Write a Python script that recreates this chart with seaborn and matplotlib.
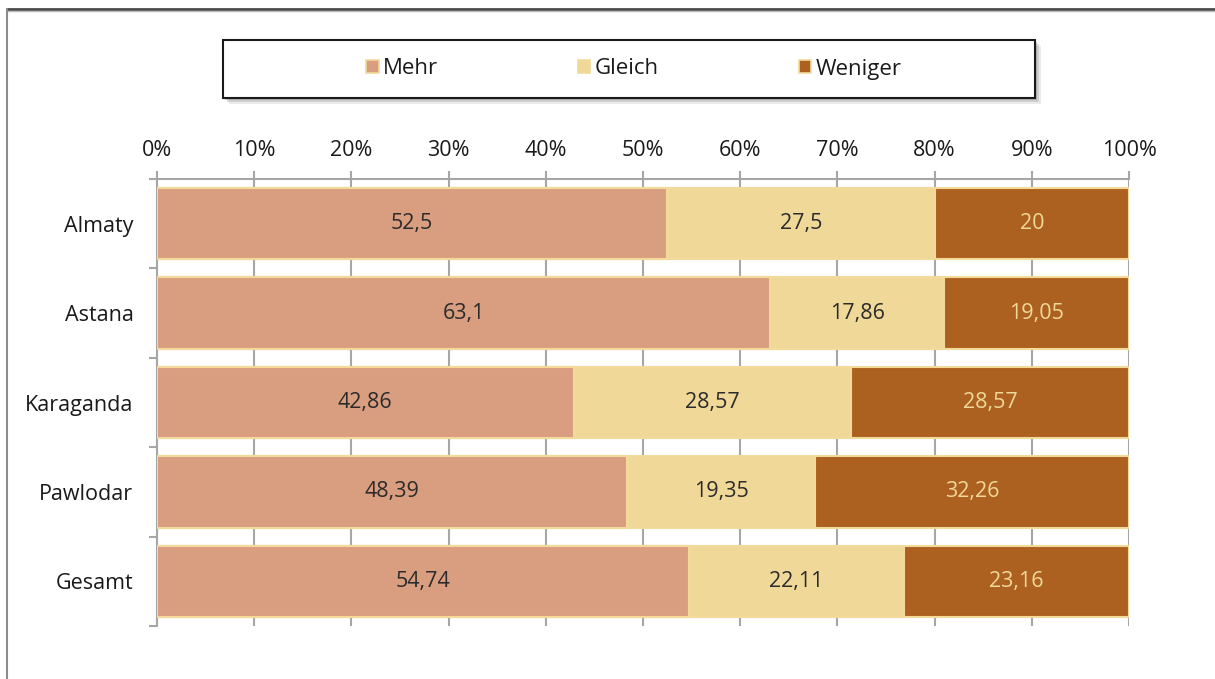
import matplotlib
matplotlib.use("Agg")
import matplotlib.pyplot as plt
from matplotlib.patches import Patch, Rectangle
from matplotlib.lines import Line2D
import seaborn as sns
import pandas as pd
import numpy as np

# ---- données ----
villes = ["Almaty", "Astana", "Karaganda", "Pawlodar", "Gesamt"]
mehr = [52.5, 63.1, 42.86, 48.39, 54.74]
gleich = [27.5, 17.86, 28.57, 19.35, 22.11]
weniger = [20, 19.05, 28.57, 32.26, 23.16]
series = ["Mehr", "Gleich", "Weniger"]
x_ticks = [0, 10, 20, 30, 40, 50, 60, 70, 80, 90, 100]

# couleurs
c_mehr = "#D99E80"
c_gleich = "#F0D898"
c_weniger = "#AD6120"
c_edge = "#F2DA9A"
c_grid = "#A6A6A6"

sns.set_theme(style="white")
plt.rcParams["font.family"] = ["Open Sans", "DejaVu Sans"]

df = pd.DataFrame({"Ville": villes, "Mehr": mehr, "Gleich": gleich, "Weniger": weniger})
df["cum1"] = df["Mehr"]
df["cum2"] = df["Mehr"] + df["Gleich"]
df["cum3"] = df["cum2"] + df["Weniger"]

fig = plt.figure(figsize=(12.15, 6.79), dpi=100)
ax = fig.add_axes([157 / 1215, 1 - 626 / 679, 972 / 1215, (626 - 179) / 679])

# barres empilées : on dessine les cumuls du plus grand au plus petit
for col, color in [("cum3", c_weniger), ("cum2", c_gleich), ("cum1", c_mehr)]:
    sns.barplot(data=df, x=col, y="Ville", orient="h", color=color, width=0.8,
                edgecolor=c_edge, linewidth=1.5, saturation=1, ax=ax, zorder=3)

# étiquettes au centre de chaque segment
fs = 15.5
for i, row in df.iterrows():
    ax.text(row["Mehr"] / 2, i, f"{row['Mehr']:g}".replace(".", ","),
            ha="center", va="center", fontsize=fs, color="#2b2b2b", zorder=5)
    ax.text(row["cum1"] + row["Gleich"] / 2, i, f"{row['Gleich']:g}".replace(".", ","),
            ha="center", va="center", fontsize=fs, color="#2b2b2b", zorder=5)
    ax.text(row["cum2"] + row["Weniger"] / 2, i, f"{row['Weniger']:g}".replace(".", ","),
            ha="center", va="center", fontsize=fs, color=c_gleich, zorder=5)

# axes
ax.set_xlim(0, 100)
ax.set_ylim(len(villes) - 0.5, -0.5)
ax.set_xlabel("")
ax.set_ylabel("")
ax.xaxis.tick_top()
ax.set_xticks(x_ticks)
ax.set_xticklabels([f"{t}%" for t in x_ticks], fontsize=fs, color="#1a1a1a")
ax.tick_params(axis="x", which="major", direction="out", length=6, width=1.5,
               color=c_grid, pad=7, bottom=False)
ax.grid(axis="x", color=c_grid, linewidth=1.5, zorder=0)
ax.set_axisbelow(True)

ax.set_yticks(range(len(villes)))
ax.set_yticklabels(villes, fontsize=fs, color="#1a1a1a")
ax.set_yticks(np.arange(-0.5, len(villes), 1), minor=True)
ax.tick_params(axis="y", which="major", length=0, pad=17)
ax.tick_params(axis="y", which="minor", direction="out", length=6, width=1.5, color=c_grid, left=True)

for s in ["right", "bottom"]:
    ax.spines[s].set_visible(False)
for s in ["top", "left"]:
    ax.spines[s].set_color(c_grid)
    ax.spines[s].set_linewidth(1.5)

# cadre extérieur
fig.add_artist(Line2D([7 / 1215, 1], [1 - 9 / 679] * 2, color="#4a4a4a", lw=2))
fig.add_artist(Line2D([7 / 1215, 1], [1 - 11 / 679] * 2, color="#b8b8b8", lw=1))
fig.add_artist(Line2D([7 / 1215] * 2, [0, 1 - 9 / 679], color="#8c8c8c", lw=1.5))

# boîte de légende avec ombre
bx, by, bw, bh = 223 / 1215, 1 - 98 / 679, 812 / 1215, 58 / 679
for k, a in [(6, 0.15), (4, 0.25), (2, 0.35)]:
    fig.add_artist(Rectangle((bx + k / 1215, by - k / 679), bw, bh, transform=fig.transFigure,
                             facecolor="#7a7a7a", edgecolor="none", alpha=a))
fig.add_artist(Rectangle((bx, by), bw, bh, transform=fig.transFigure,
                         facecolor="white", edgecolor="#1a1a1a", lw=1.5))

handles = [Patch(facecolor=c, edgecolor=c_edge, linewidth=1.2) for c in [c_mehr, c_gleich, c_weniger]]
leg = fig.legend(handles, series, loc="center", bbox_to_anchor=(634 / 1215, 1 - 69 / 679),
                 ncol=3, frameon=False, fontsize=16, handlelength=0.55, handleheight=0.55,
                 handletextpad=0.2, columnspacing=6.3)
for t in leg.get_texts():
    t.set_color("#1a1a1a")

fig.savefig("out.png", dpi=100)
